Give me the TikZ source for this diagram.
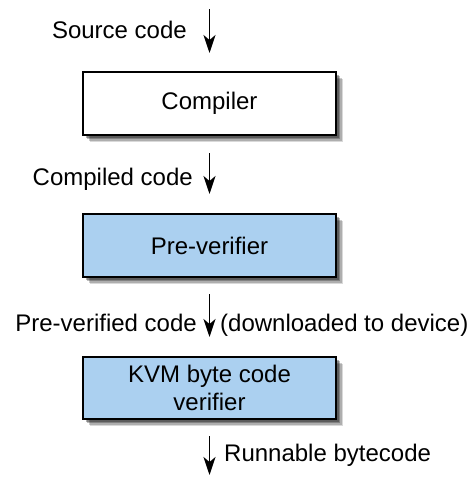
\documentclass[tikz,border=0pt]{standalone}
\usepackage{fontspec}
\setmainfont{Liberation Sans}
\usetikzlibrary{arrows.meta,shadows}
\definecolor{stageblue}{RGB}{171,208,240}
\begin{document}
\begin{tikzpicture}[x=1pt,y=-1pt,
  font=\fontsize{24}{28}\selectfont,
  softshadow/.style={
    general shadow={shadow xshift=7pt, shadow yshift=-7pt, fill=black, opacity=0.15},
    general shadow={shadow xshift=5.5pt, shadow yshift=-5.5pt, fill=black, opacity=0.2},
    general shadow={shadow xshift=4pt, shadow yshift=-4pt, fill=black, opacity=0.25},
    general shadow={shadow xshift=2.5pt, shadow yshift=-2.5pt, fill=black, opacity=0.3}},
  stage/.style={draw=black, line width=2pt, fill=white,
    minimum width=253pt, minimum height=63pt, inner sep=0pt, align=center,
    softshadow},
  flow/.style={line width=1.8pt, -{Stealth[length=18pt,width=12pt,inset=5pt]}},
  lbl/.style={inner sep=0pt}]
\useasboundingbox (0,0) rectangle (475,477);

% processing stages
\node[stage] (compiler) at (209.5,103.5) {Compiler};
\node[stage, fill=stageblue] (prever) at (209.5,245.5) {Pre-verifier};
\node[stage, fill=stageblue, minimum height=62pt] (kvm) at (209.5,388) {KVM byte code\\verifier};

% free ends of the first and last arrows
\coordinate (in) at (209.5,9);
\coordinate (out) at (209.5,475);

% flow between stages
\draw[flow, shorten >=18pt] (in) -- (compiler.north);
\draw[flow, shorten <=17pt, shorten >=19pt] (compiler.south) -- (prever.north);
\draw[flow, shorten <=16pt, shorten >=19pt] (prever.south) -- (kvm.north);
\draw[flow, shorten <=16pt] (kvm.south) -- (out);

% arrow labels
\node[lbl, anchor=base east] (lsrc) at (187,38) {Source code};
\node[lbl, anchor=base east] (lcomp) at (193,185) {Compiled code};
\node[lbl, anchor=base east] (lpre) at (197,331) {Pre-verified code};
\node[lbl, anchor=base west] (ldown) at (220,331) {(downloaded to device)};
\node[lbl, anchor=base west] (lrun) at (224,461) {Runnable bytecode};
\end{tikzpicture}
\end{document}
